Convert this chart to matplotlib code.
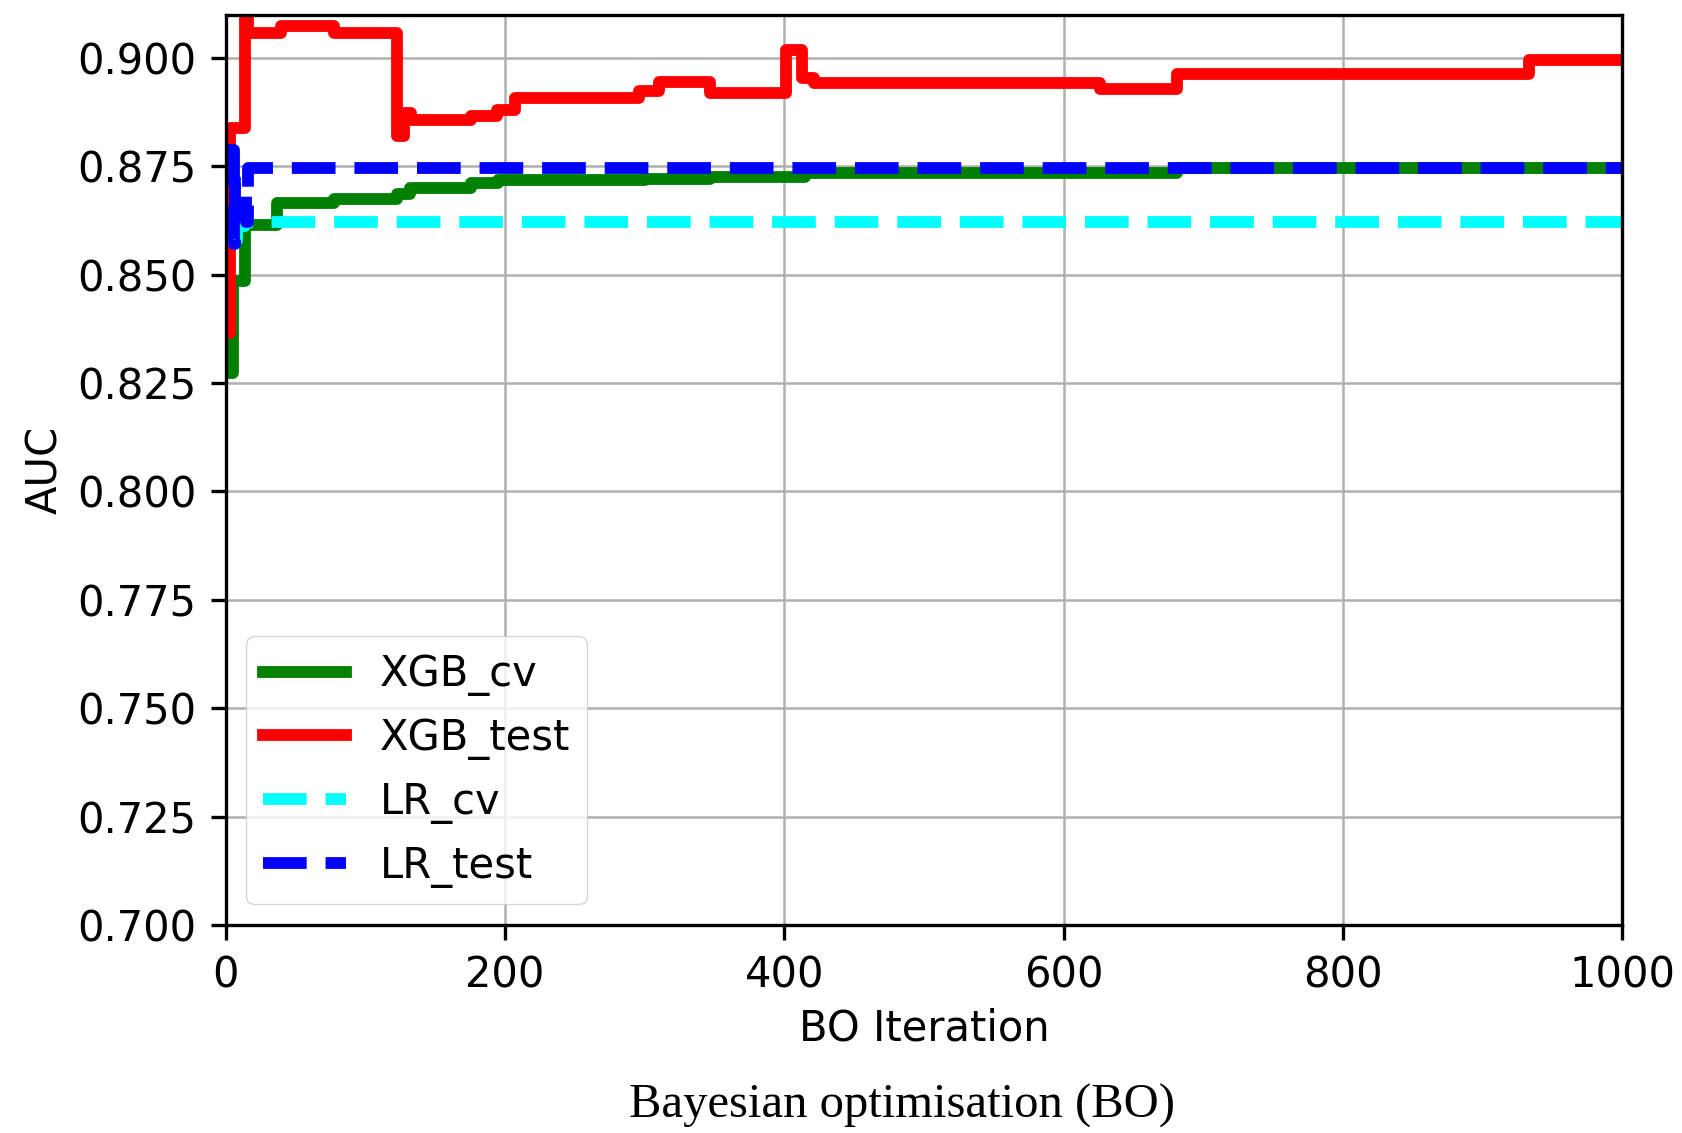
import numpy as np
import matplotlib.pyplot as plt

# change points of the best-so-far curves (iteration, AUC)
xgb_cv_iter = [1, 5, 14, 37, 78, 123, 132, 176, 195, 300, 347, 415, 681, 1000]
xgb_cv_auc = [0.8273, 0.8485, 0.8615, 0.8665, 0.8673, 0.8685, 0.8700, 0.8710,
              0.8719, 0.8721, 0.8725, 0.8733, 0.8745, 0.8745]

xgb_test_iter = [1, 3, 14, 16, 40, 78, 123, 128, 133, 176, 194, 207, 296, 310,
                 347, 401, 413, 421, 626, 681, 933, 1000]
xgb_test_auc = [0.8365, 0.8838, 0.9150, 0.9057, 0.9073, 0.9058, 0.8819, 0.8873,
                0.8856, 0.8865, 0.8879, 0.8906, 0.8922, 0.8945, 0.8919, 0.9017,
                0.8954, 0.8942, 0.8927, 0.8962, 0.8994, 0.8994]

lr_cv_iter = [1, 8, 14, 1000]
lr_cv_auc = [0.8580, 0.8612, 0.8622, 0.8622]

lr_test_iter = [1, 6, 7, 15, 16, 1000]
lr_test_auc = [0.8787, 0.8570, 0.8710, 0.8620, 0.8745, 0.8745]

y_ticks = [0.700, 0.725, 0.750, 0.775, 0.800, 0.825, 0.850, 0.875, 0.900]
x_ticks = [0, 200, 400, 600, 800, 1000]

fig = plt.figure(figsize=(16.83, 11.33), dpi=100)
ax = fig.add_axes([0.134, 0.1835, 0.830, 0.8035])

lw = 8.5
ax.step(xgb_cv_iter, xgb_cv_auc, where='post', color='green', lw=lw, label='XGB_cv')
ax.step(xgb_test_iter, xgb_test_auc, where='post', color='red', lw=lw, label='XGB_test')
ax.step(lr_cv_iter, lr_cv_auc, where='post', color='cyan', lw=lw, ls='--', label='LR_cv')
ax.step(lr_test_iter, lr_test_auc, where='post', color='blue', lw=lw, ls='--', label='LR_test')

ax.set_xlim(0, 1000)
ax.set_ylim(0.7, 0.9099)
ax.set_xticks(x_ticks)
ax.set_yticks(y_ticks)
ax.set_yticklabels(['%.3f' % v for v in y_ticks])
ax.grid(True, color='#b0b0b0', lw=1.8)
ax.tick_params(labelsize=30, length=11, width=2.4, pad=10)
for s in ax.spines.values():
    s.set_linewidth(2.4)

ax.set_xlabel('BO Iteration', fontsize=30, labelpad=8)
ax.set_ylabel('AUC', fontsize=30, labelpad=8)
ax.legend(loc='lower left', fontsize=30, handlelength=2.0)

fig.text(0.536, 0.0243, 'Bayesian optimisation (BO)', ha='center', va='center',
         fontsize=35, family='Liberation Serif')

fig.savefig('out.png', dpi=100)
